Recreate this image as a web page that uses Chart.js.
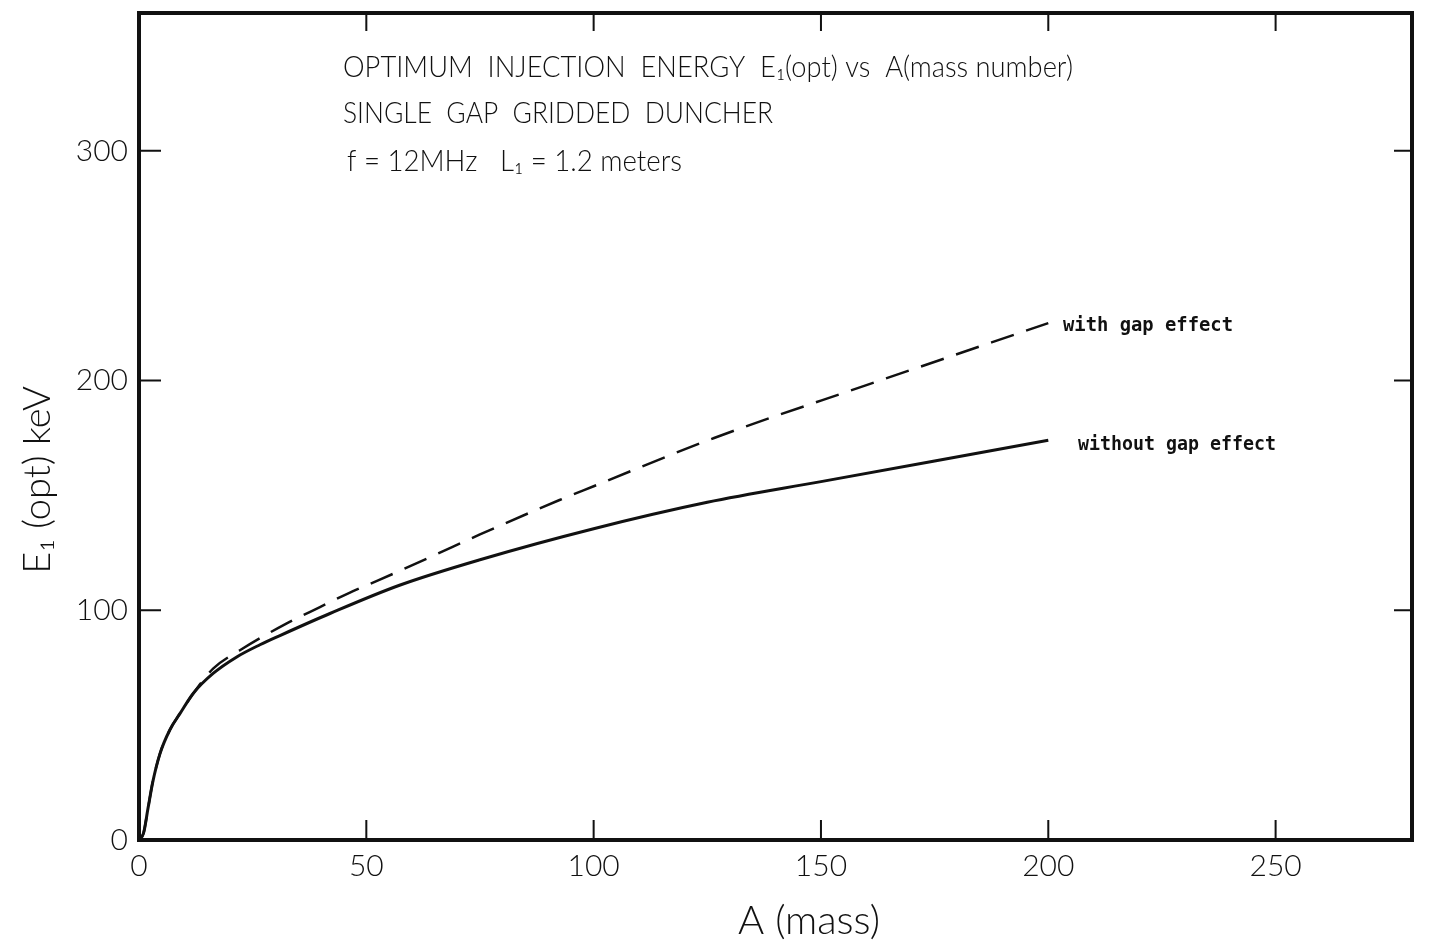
<!DOCTYPE html>
<html>
<head>
<meta charset="utf-8">
<script src="https://cdn.jsdelivr.net/npm/chart.js@4/dist/chart.umd.min.js"></script>
<style>
  body { margin: 0; background: #fff; }
  canvas { display: block; }
</style>
</head>
<body>
<canvas id="energy-chart" width="1431" height="942"></canvas>
<script>
// values
const massWithout = [0, 1, 2, 3, 4.6, 6.8, 9, 12, 16.3, 21.5, 26.6, 31, 42, 57.3, 75, 100, 125, 150, 175, 200];
const energyWithout = [0, 3, 14, 25, 37.5, 48, 55, 64, 72.5, 79.7, 85, 89, 98.6, 110.9, 122, 135.5, 147, 156, 165, 174];
const massWith = [0, 1, 2, 3, 4.6, 6.8, 9, 12, 16.3, 22.2, 32.4, 39.8, 46.4, 52.6, 65, 75, 92.5, 100, 126.5, 160, 200];
const energyWith = [0, 3, 14, 25, 37.5, 48, 55, 64, 74.6, 82.6, 94.2, 101.4, 107.7, 113, 124, 133, 148, 154, 175, 198, 225];
const xTicks = [0, 50, 100, 150, 200, 250];
const yTicks = [0, 100, 200, 300];

const titleLines = [
  'OPTIMUM  INJECTION  ENERGY  E\u2081(opt) vs  A(mass number)',
  'SINGLE  GAP  GRIDDED  DUNCHER',
  'f = 12MHz   L\u2081 = 1.2 meters'
];

function toPoints(xs, ys) {
  return xs.map((x, i) => ({ x: x, y: ys[i] }));
}

const ink = '#111';
const thinFont = '"Lato", "Open Sans", "Liberation Sans", sans-serif';

const decorations = {
  id: 'decorations',
  afterDraw(chart) {
    const ctx = chart.ctx;
    const area = chart.chartArea;
    const xs = chart.scales.x;
    const ys = chart.scales.y;
    ctx.save();
    ctx.strokeStyle = ink;
    ctx.fillStyle = ink;

    // frame
    ctx.lineWidth = 4;
    ctx.strokeRect(area.left, area.top, area.right - area.left, area.bottom - area.top);

    // inward ticks
    ctx.lineWidth = 2;
    ctx.beginPath();
    xTicks.forEach(v => {
      if (v === 0) return;
      const px = xs.getPixelForValue(v);
      ctx.moveTo(px, area.bottom);
      ctx.lineTo(px, area.bottom - 20);
      ctx.moveTo(px, area.top);
      ctx.lineTo(px, area.top + 18);
    });
    yTicks.forEach(v => {
      if (v === 0) return;
      const py = ys.getPixelForValue(v);
      ctx.moveTo(area.left, py);
      ctx.lineTo(area.left + 22, py);
      ctx.moveTo(area.right, py);
      ctx.lineTo(area.right - 18, py);
    });
    ctx.stroke();

    // title block
    ctx.textBaseline = 'alphabetic';
    ctx.textAlign = 'left';
    ctx.font = '300 30px ' + thinFont;
    ctx.fillText(titleLines[0], 343, 77, 730);
    ctx.fillText(titleLines[1], 343, 123, 430);
    ctx.fillText(titleLines[2], 347, 171, 335);

    // curve labels
    ctx.font = 'bold 20px "DejaVu Sans Mono", monospace';
    ctx.fillText('with gap effect', 1063, 331, 170);
    ctx.fillText('without gap effect', 1078, 450, 198);

    // axis titles
    ctx.font = '300 40px ' + thinFont;
    ctx.textAlign = 'center';
    ctx.fillText('A (mass)', 809, 934, 155);

    ctx.translate(50, 480);
    ctx.rotate(-Math.PI / 2);
    ctx.font = '300 38px ' + thinFont;
    ctx.fillText('E\u2081 (opt) keV', 0, 0, 225);
    ctx.restore();
  }
};

new Chart(document.getElementById('energy-chart').getContext('2d'), {
  type: 'line',
  data: {
    datasets: [
      {
        label: 'without gap effect',
        data: toPoints(massWithout, energyWithout),
        borderColor: ink,
        borderWidth: 3,
        pointRadius: 0,
        cubicInterpolationMode: 'monotone',
        fill: false
      },
      {
        label: 'with gap effect',
        data: toPoints(massWith, energyWith),
        borderColor: ink,
        borderWidth: 2.5,
        borderDash: [24, 13],
        pointRadius: 0,
        cubicInterpolationMode: 'monotone',
        fill: false
      }
    ]
  },
  options: {
    responsive: false,
    animation: false,
    layout: { padding: { top: 13, right: 19, left: 0, bottom: 0 } },
    plugins: {
      legend: { display: false },
      title: { display: false },
      tooltip: { enabled: false }
    },
    scales: {
      x: {
        type: 'linear',
        min: 0,
        max: 280,
        afterFit(scale) {
          scale.height = 102;
          scale.paddingLeft = 0;
          scale.paddingRight = 0;
        },
        grid: { display: false, drawTicks: false },
        border: { display: false },
        ticks: {
          stepSize: 50,
          includeBounds: false,
          padding: 8,
          color: ink,
          font: { family: thinFont, size: 30, weight: '300' }
        }
      },
      y: {
        type: 'linear',
        min: 0,
        max: 360,
        afterFit(scale) {
          scale.width = 139;
          scale.paddingTop = 0;
          scale.paddingBottom = 0;
        },
        grid: { display: false, drawTicks: false },
        border: { display: false },
        ticks: {
          stepSize: 100,
          includeBounds: false,
          padding: 11,
          color: ink,
          font: { family: thinFont, size: 30, weight: '300' }
        }
      }
    }
  },
  plugins: [decorations]
});
</script>
</body>
</html>
